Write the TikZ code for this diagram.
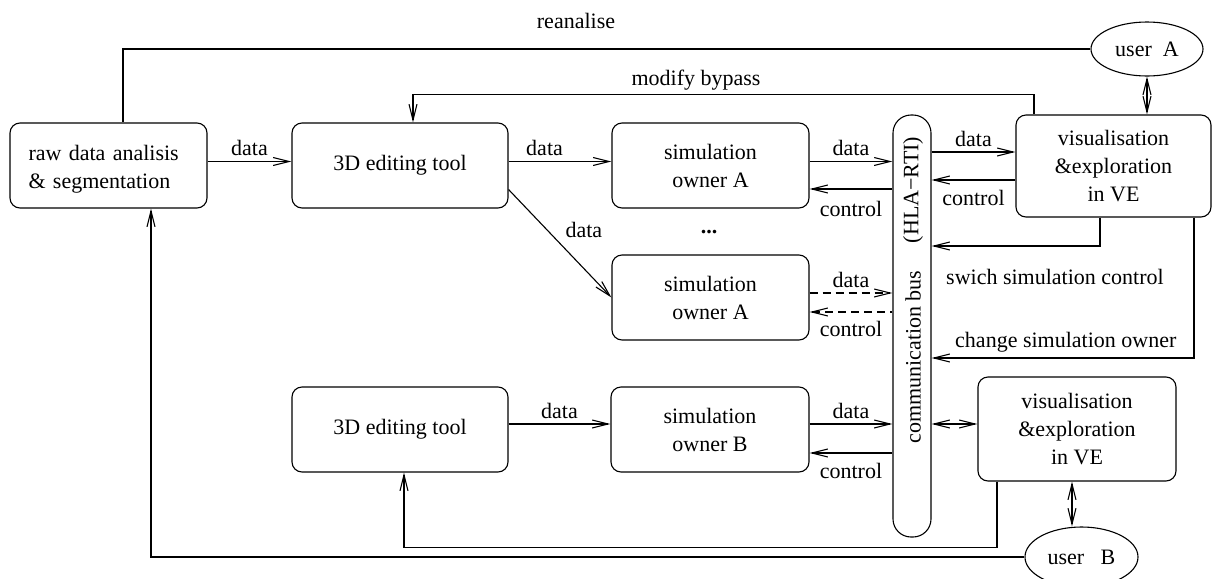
\documentclass[tikz,border=0pt]{standalone}
\usepackage{fontspec}
\setmainfont{Liberation Serif}
\usetikzlibrary{arrows.meta,shapes.geometric}

\begin{document}
\begin{tikzpicture}[x=.5pt,y=-.5pt,
  >={Straight Barb[length=8pt,width=4pt]},
  line width=0.55pt,
  every node/.style={font=\fontsize{11}{14}\selectfont},
  box/.style={draw,rounded corners=5pt,align=center,inner sep=0pt,minimum height=42.5pt},
  textdrop/.style={execute at begin node={\rule{0pt}{#1}}},
  user/.style={draw,ellipse,inner sep=0pt},
  lbl/.style={inner sep=2.5pt},
  dashedline/.style={dash pattern=on 4pt off 2.5pt}]
\path[use as bounding box] (0,0) rectangle (1212,579);
\node[box,textdrop=11pt,minimum width=98.5pt,text width=80pt,align=left] (raw) at (108.5,165.5) {raw data analisis\\\& segmentation};
\node[box,minimum width=108pt] (edit1) at (400,165.5) {3D editing tool};
\node[box,textdrop=11pt,minimum width=98.5pt] (simA) at (710.5,165.5) {simulation\\owner A};
\node[font=\fontsize{11}{14}\selectfont\bfseries] (dots) at (709,232) {...};
\node[box,textdrop=11pt,minimum width=98.5pt] (simA2) at (710.5,297.5) {simulation\\owner A};
\node[box,minimum width=108pt] (edit2) at (400,429.5) {3D editing tool};
\node[box,textdrop=11pt,minimum width=99pt] (simB) at (710,429.5) {simulation\\owner B};
\node[box,rounded corners=9pt,minimum width=19pt,minimum height=211pt] (bus) at (912,326) {};
\node[rotate=90] (busname) at (913,357) {communication bus};
\node[rotate=90] (bustag) at (913,190) {(HLA−RTI)};
\node[box,textdrop=14.5pt,minimum width=97.5pt,minimum height=51pt] (visA) at (1113.5,166) {visualisation\\\&exploration\\in VE};
\node[box,textdrop=14.5pt,minimum width=99pt,minimum height=52pt] (visB) at (1077,429) {visualisation\\\&exploration\\in VE};
\node[user,minimum width=56pt,minimum height=27pt] (userA) at (1147,49) {user\ \ A};
\node[user,minimum width=56.5pt,minimum height=30pt] (userB) at (1081.5,557) {user\ \ \ B};
\draw[->] ([yshift=2pt]raw.east) -- ([yshift=2pt]raw.east -| edit1.west) node[lbl,midway,above] (d1) {data};
\draw[->] ([yshift=2pt]edit1.east) -- ([yshift=2pt]edit1.east -| simA.west) node[lbl,pos=.35,above] (d2) {data};
\draw[->] ([yshift=-12pt]edit1.east) -- (simA2.west) node[lbl,midway,above right] (d3) {data};
\draw[->] ([yshift=2pt]simA.east) -- ([yshift=2pt]simA.east -| bus.west) node[lbl,midway,above] (d4) {data};
\draw[<-] ([yshift=-11.75pt]simA.east) -- ([yshift=-11.75pt]simA.east -| bus.west) node[lbl,midway,below=3.5pt] (c4) {control};
\draw[->,dashedline] ([yshift=2.25pt]simA2.east) -- ([yshift=2.25pt]simA2.east -| bus.west) node[lbl,midway,above,solid] (d5) {data};
\draw[<-,dashedline] ([yshift=-7.25pt]simA2.east) -- ([yshift=-7.25pt]simA2.east -| bus.west) node[lbl,midway,below=2pt] (c5) {control};
\draw[->] ([yshift=2.75pt]edit2.east) -- ([yshift=2.75pt]edit2.east -| simB.west) node[lbl,midway,above] (d6) {data};
\draw[->] ([yshift=2.75pt]simB.east) -- ([yshift=2.75pt]simB.east -| bus.west) node[lbl,midway,above] (d7) {data};
\draw[<-] ([yshift=-11.75pt]simB.east) -- ([yshift=-11.75pt]simB.east -| bus.west) node[lbl,midway,below=2.5pt] (c7) {control};
\draw[->] ([yshift=7pt]visA.west -| bus.east) -- ([yshift=7pt]visA.west) node[lbl,midway,above] (d8) {data};
\draw[<-] ([yshift=-7pt]visA.west -| bus.east) -- ([yshift=-7pt]visA.west) node[lbl,midway,below=2.5pt] (c8) {control};
\draw[->] ([xshift=-6.75pt]visA.south) |- ([yshift=40pt]bus.east);
\node[anchor=west] (swich) at (939,277) {swich simulation control};
\draw[->] ([xshift=40.25pt]visA.south) |- ([yshift=-16pt]bus.east);
\node[anchor=west] (change) at (948,342) {change simulation owner};
\draw[<->] ([yshift=2.5pt]visB.west -| bus.east) -- ([yshift=2.5pt]visB.west);
\draw[<->] (userA.south) -- (userA.south |- visA.north);
\draw[<->] ([xshift=-2.5pt]visB.south) -- ([xshift=-2.5pt]visB.south |- userB.north);
\draw[->] ([xshift=-39.75pt]visA.north) -- ++(0,-20) -| ([xshift=6.5pt]edit1.north);
\node (bypass) at (696,80) {modify bypass};
\draw (userA.west) -| ([xshift=7.25pt]raw.north);
\node (reanalise) at (576,21) {reanalise};
\draw[->] ([xshift=-40pt]visB.south) -- ++(0,66) -| ([xshift=2pt]edit2.south);
\draw[->] (userB.west) -| ([xshift=21.25pt]raw.south);
\end{tikzpicture}
\end{document}
